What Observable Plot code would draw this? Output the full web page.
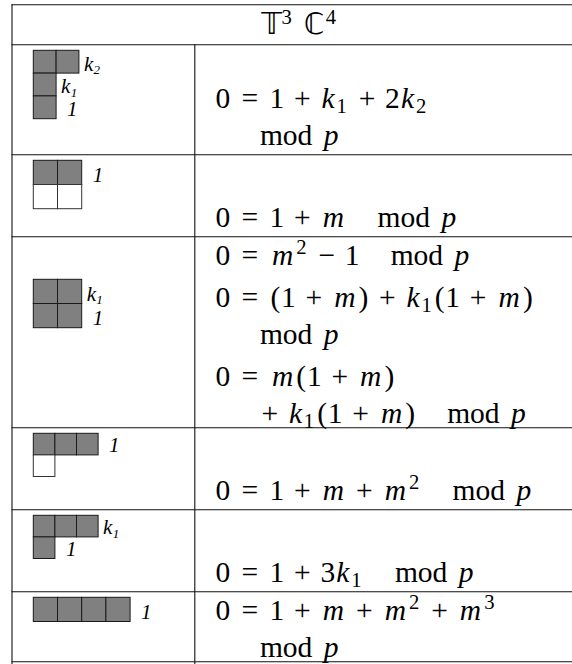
<!DOCTYPE html>
<html><head><meta charset="utf-8">
<script src="https://cdn.jsdelivr.net/npm/d3@7"></script>
<script src="https://cdn.jsdelivr.net/npm/@observablehq/plot@0.6"></script>
<style>html,body{margin:0;padding:0;background:#fff;} svg{display:block}</style>
</head><body>
<script>
// ================= DATA =================
// header: symbols with superscripts ("~" = word space)
const headerTokens = ["𝕋^3", "~", "ℂ^4"];

// diagram shapes, one string per diagram row: "#" = shaded box, "o" = empty box
const diagramShapes = [
  ["##", "#", "#"],
  ["##", "oo"],
  ["##", "##"],
  ["###", "o"],
  ["###", "#"],
  ["####"]
];

// label written beside each diagram row ("" = none)
const diagramLabels = [
  ["k_2", "k_1", "1"],
  ["1", ""],
  ["k_1", "1"],
  ["1", ""],
  ["k_1", "1"],
  ["1"]
];

// equations per table row; each equation = list of its printed lines (later lines are continuations)
const equations = [
  [["0 = 1 + k_1 + 2 k_2", "\\mod p"]],
  [["0 = 1 + m \\mod p"]],
  [["0 = m^2 − 1 \\mod p"],
   ["0 = ( 1 + m ) + k_1 ( 1 + m )", "\\mod p"],
   ["0 = m ( 1 + m )", "+ k_1 ( 1 + m ) \\mod p"]],
  [["0 = 1 + m + m^2 \\mod p"]],
  [["0 = 1 + 3 k_1 \\mod p"]],
  [["0 = 1 + m + m^2 + m^3", "\\mod p"]]
];

// text line beside which each diagram starts
const diagramLine = [0, 0, 1, 0, 0, 0];

// ================= LAYOUT / STYLE =================
const W = 572, H = 664;
const F = 29.5, L = 37, EQGAP = 5, LF = 21;
const FONT = "Liberation Serif";
const HEADER_FONT = "Liberation Serif, DejaVu Sans";
const LINE = "#111";
const tableTop = 4.3, tableLeft = 11.5, colX = 194.3, tableRight = 587;
const headerH = 40;
const diagLeft = 33.3;
const cellSizes = [22.8, 24.2, 24.2, 21.6, 21.6, 24.2];
const diagStep = 28, diagBase = 26, diagTopGap = 6;
const textTop = 28, textBottom = 5, bottomGap = 10;
const textX = 215, contIndent = 1.45 * F;

// Computer-Modern-like advance widths (em) and Liberation Serif glyph widths (em)
const CMW = {"=": .778, "+": .778, "−": .778, "(": .389, ")": .389, m: .878, k: .521, p: .503, "𝕋": .667, "ℂ": .722};
const TMW = {"=": .564, "+": .564, "−": .564, "(": .333, ")": .333, m: .722, k: .444, p: .5, "𝕋": .667, "ℂ": .722};

function cls(tok) {
  if (tok === "\\mod") return "mod";
  if (tok === "~") return "space";
  if (tok === "=") return "rel";
  if (tok === "+" || tok === "−") return "bin";
  if (tok === "(") return "open";
  if (tok === ")") return "close";
  return "ord";
}
function gap(prev, cur) {
  if (!prev) return 0;
  if (cur === "mod") return 1;
  if (cur === "space") return .333;
  if (prev === "space") return 0;
  if (prev === "rel" || cur === "rel") return .278;
  if (cur === "bin") return (prev === "ord" || prev === "close") ? .222 : 0;
  if (prev === "bin") return .222;
  if (prev === "mod") return .333;
  return 0;
}
function layoutMath(tokens, size) {
  let cur = 0, prev = null;
  const out = [];
  for (const tok of tokens) {
    const c = cls(tok);
    const g = gap(prev, c) * size;
    if (g > 0 && out.length) out[out.length - 1].t += " ";
    cur += g;
    if (c === "space") { prev = c; continue; }
    if (c === "mod") {
      out.push({t: "mod", x: cur + (1.889 - 1.778) / 2 * size, y: 0, s: size, it: false});
      cur += 1.889 * size;
    } else {
      const m = tok.match(/^(.+?)([_^])(.+)$/);
      const base = m ? m[1] : tok;
      for (const ch of [...base]) {
        const cw = CMW[ch] ?? .5, tw = TMW[ch] ?? .5;
        out.push({t: ch, x: cur + (cw - tw) / 2 * size, y: 0, s: size, it: /[a-z]/.test(ch)});
        cur += cw * size;
      }
      if (m) {
        const ss = size * 0.7, dy = m[2] === "_" ? 0.16 * size : -0.36 * size;
        for (const ch of m[3]) {
          out.push({t: ch, x: cur + (.569 - .5) / 2 * ss, y: dy, s: ss, it: false});
          cur += .569 * ss;
        }
        cur += .05 * size;
      }
    }
    prev = c;
  }
  return {glyphs: out, width: cur, plain: out.map(d => d.t).join("")};
}
function layoutLabel(src, size) {
  const m = src.match(/^(.+?)_(.+)$/);
  const out = [{t: m ? m[1] : src, x: 0, y: 0, s: size, it: true}];
  if (m) out.push({t: m[2], x: .444 * size + 0.3, y: 0.15 * size, s: size * 0.62, it: true});
  return {glyphs: out, plain: out.map(d => d.t).join("")};
}

// ---- table geometry derived from content ----
let yCursor = tableTop + headerH;
const rows = equations.map((eqs, r) => {
  const lines = [];
  let off = 0;
  eqs.forEach(eq => eq.forEach((src, j) => {
    if (lines.length) off += L + (j === 0 ? EQGAP : 0);
    lines.push({src, cont: j > 0, off});
  }));
  const textH = textTop + off + textBottom;
  const diagH = diagramShapes[r].length * diagStep + diagBase;
  const h = Math.max(diagH, textH);
  const top = yCursor; yCursor += h;
  // text-dominant rows start at the top; others sit at the bottom
  const first = textH >= diagH ? top + textTop : yCursor - bottomGap - off;
  lines.forEach(d => d.y = first + d.off);
  return {r, top, bottom: yCursor, lines};
});

const hLines = [tableTop, tableTop + headerH, ...rows.map(d => d.bottom)]
  .map(y => ({y, x1: tableLeft, x2: tableRight}));
const vLines = [
  {x: tableLeft, y1: tableTop, y2: Math.max(H, yCursor)},
  {x: colX, y1: tableTop + headerH, y2: Math.max(H, yCursor)}
];

const header = layoutMath(headerTokens, F);
const headerDatum = {
  x: (tableLeft + tableRight) / 2 - header.width / 2,
  y: tableTop + headerH - bottomGap - 0.5,
  ...header
};

const eqLines = [];
rows.forEach(row => {
  row.lines.forEach(ln => {
    const lay = layoutMath(ln.src.split(" "), F);
    eqLines.push({x: textX + (ln.cont ? contIndent : 0), y: ln.y, ...lay});
  });
});

const cells = [], labels = [];
rows.forEach(row => {
  const r = row.r, s = cellSizes[r];
  const top = row.top + diagTopGap + diagramLine[r] * L;
  diagramShapes[r].forEach((line, i) => {
    [...line].forEach((c, j) => {
      cells.push({x1: diagLeft + j * s, x2: diagLeft + (j + 1) * s,
                  y1: top + i * s, y2: top + (i + 1) * s, filled: c === "#"});
    });
    const lab = diagramLabels[r][i];
    if (lab) {
      const lay = layoutLabel(lab, LF);
      labels.push({x: diagLeft + line.length * s + (lab[0] === "k" ? 4.5 : 10.5),
                   y: top + (i + 1) * s - 3, ...lay});
    }
  });
});

const textOpts = {x: "x", y: "y", text: "plain", textAnchor: "start", lineAnchor: "bottom", fill: "#000"};

const svg = Plot.plot({
  width: W, height: H,
  marginTop: 0, marginRight: 0, marginBottom: 0, marginLeft: 0,
  x: {domain: [0, W], range: [0, W], axis: null},
  y: {domain: [0, H], range: [0, H], axis: null},
  style: {background: "#fff", overflow: "hidden"},
  marks: [
    Plot.ruleY(hLines, {y: "y", x1: "x1", x2: "x2", stroke: LINE, strokeWidth: 1.1}),
    Plot.ruleX(vLines, {x: "x", y1: "y1", y2: "y2", stroke: LINE, strokeWidth: 1.1}),
    Plot.rect(cells.filter(d => d.filled), {x1: "x1", x2: "x2", y1: "y1", y2: "y2",
      fill: "#808080", stroke: "#1a1a1a", strokeWidth: 1}),
    Plot.rect(cells.filter(d => !d.filled), {x1: "x1", x2: "x2", y1: "y1", y2: "y2",
      fill: "#fff", stroke: "#333", strokeWidth: 1}),
    Plot.text([headerDatum], {...textOpts, fontSize: F, fontFamily: HEADER_FONT}),
    Plot.text(eqLines, {...textOpts, fontSize: F, fontFamily: FONT}),
    Plot.text(labels, {...textOpts, fontSize: LF, fontFamily: FONT, fontStyle: "italic"})
  ]
});

// turn each plain string into positioned tspans (sub/superscripts, italics)
function fillText(el, glyphs, family) {
  el.textContent = "";
  for (const g of glyphs) {
    const ts = document.createElementNS("http://www.w3.org/2000/svg", "tspan");
    ts.setAttribute("x", g.x.toFixed(2));
    ts.setAttribute("y", g.y.toFixed(2));
    ts.setAttribute("font-family", family);
    ts.setAttribute("font-size", g.s.toFixed(2));
    if (g.it) ts.setAttribute("font-style", "italic");
    ts.textContent = g.t;
    el.appendChild(ts);
  }
}
const groups = svg.querySelectorAll('g[aria-label="text"]');
[[[headerDatum], HEADER_FONT], [eqLines, FONT], [labels, FONT]].forEach(([arr, fam], k) => {
  const texts = groups[k].querySelectorAll("text");
  texts.forEach((el, i) => fillText(el, arr[i].glyphs, fam));
});

document.body.appendChild(svg);
</script>
</body></html>
